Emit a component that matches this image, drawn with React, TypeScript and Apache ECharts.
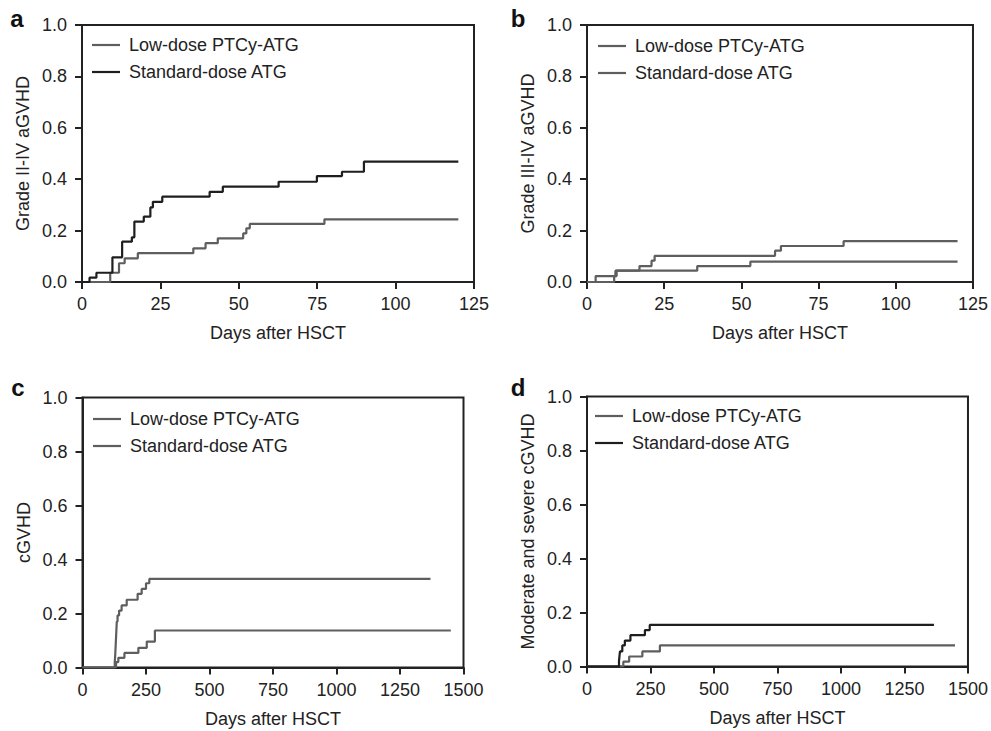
import React, { useEffect, useRef } from "react";
import * as echarts from "echarts";

const FONT = '"Liberation Sans", Arial, Helvetica, sans-serif';
const LOW = "Low-dose PTCy-ATG";
const STD = "Standard-dose ATG";
const X_NAME = "Days after HSCT";
const Y_NAMES = ["Grade II-IV aGVHD", "Grade III-IV aGVHD", "cGVHD", "Moderate and severe cGVHD"];
const PANEL_LETTERS = ["a", "b", "c", "d"];

// Panel a – grade II-IV aGVHD
const A_LOW_DAYS = [0, 9.0, 11.8, 13.6, 17.8, 35.5, 39.4, 43.3, 51.4, 52.4, 53.5, 77.3, 120];
const A_LOW_CIF = [0, 0.036, 0.073, 0.092, 0.112, 0.131, 0.151, 0.17, 0.189, 0.209, 0.226, 0.244, 0.244];
const A_STD_DAYS = [0, 2.4, 4.6, 9.7, 12.8, 15.9, 16.7, 19.7, 21.8, 22.6, 25.6, 40.7, 44.9, 62.7, 74.9, 82.9, 89.9, 120];
const A_STD_CIF = [0, 0.017, 0.036, 0.096, 0.157, 0.174, 0.235, 0.254, 0.29, 0.312, 0.332, 0.351, 0.371, 0.39, 0.412, 0.429, 0.468, 0.468];

// Panel b – grade III-IV aGVHD
const B_LOW_DAYS = [0, 8.8, 9.6, 35.7, 52.9, 120];
const B_LOW_CIF = [0, 0.023, 0.044, 0.062, 0.079, 0.079];
const B_STD_DAYS = [0, 2.8, 9.2, 17.0, 20.9, 21.9, 60.9, 62.8, 83.1, 120];
const B_STD_CIF = [0, 0.023, 0.044, 0.062, 0.083, 0.102, 0.122, 0.14, 0.159, 0.159];

// Panel c – cGVHD
const C_LOW_DAYS = [0, 132, 141, 165, 220, 253, 285, 1450];
const C_LOW_CIF = [0, 0.02, 0.036, 0.054, 0.073, 0.096, 0.137, 0.137];
const C_STD_DAYS = [0, 127, 129, 131, 133, 135, 138, 144, 154, 174, 217, 233, 250, 263, 1370];
const C_STD_CIF = [0, 0.02, 0.05, 0.09, 0.13, 0.17, 0.193, 0.211, 0.23, 0.251, 0.273, 0.291, 0.312, 0.328, 0.328];

// Panel d – moderate and severe cGVHD
const D_LOW_DAYS = [0, 143, 166, 218, 287, 1449];
const D_LOW_CIF = [0, 0.018, 0.037, 0.056, 0.078, 0.078];
const D_STD_DAYS = [0, 126, 128, 130, 139, 149, 171, 228, 247, 1366];
const D_STD_CIF = [0, 0.02, 0.04, 0.056, 0.078, 0.096, 0.116, 0.135, 0.154, 0.154];

const X_MAX = [125, 125, 1500, 1500];
const X_STEP = [25, 25, 250, 250];

const BLACK = "#1e1e1e";
const GRAY = "#5e5e5e";
const AXIS = "#222";
const LINE_ICON = "path://M0,0H28V2.2H0Z";

const zip = (xs: number[], ys: number[]) => xs.map((x, i) => [x, ys[i]]);

const PANELS = [
  { grid: { left: 82, top: 25, width: 392, height: 257 }, legend: { left: 92, top: 36 }, letter: [17, 18], low: zip(A_LOW_DAYS, A_LOW_CIF), std: zip(A_STD_DAYS, A_STD_CIF), lowColor: GRAY, stdColor: BLACK },
  { grid: { left: 587, top: 25, width: 389, height: 257 }, legend: { left: 598, top: 37 }, letter: [518, 18], low: zip(B_LOW_DAYS, B_LOW_CIF), std: zip(B_STD_DAYS, B_STD_CIF), lowColor: GRAY, stdColor: GRAY },
  { grid: { left: 82.5, top: 397.5, width: 381, height: 270 }, legend: { left: 93, top: 410 }, letter: [18, 387], low: zip(C_LOW_DAYS, C_LOW_CIF), std: zip(C_STD_DAYS, C_STD_CIF), lowColor: GRAY, stdColor: GRAY },
  { grid: { left: 587, top: 396.5, width: 382, height: 270 }, legend: { left: 595, top: 407 }, letter: [518, 387], low: zip(D_LOW_DAYS, D_LOW_CIF), std: zip(D_STD_DAYS, D_STD_CIF), lowColor: GRAY, stdColor: BLACK },
];

export default function App() {
  const ref = useRef<HTMLDivElement>(null);
  useEffect(() => {
    if (!ref.current) return;
    const chart = echarts.init(ref.current, null, { renderer: "svg" });
    const text = { fontFamily: FONT, fontSize: 18, color: "#222" };
    const option: any = {
      animation: false,
      backgroundColor: "#fff",
      grid: PANELS.map((p) => ({ ...p.grid, show: true, borderColor: AXIS, borderWidth: 2, backgroundColor: "transparent" })),
      xAxis: PANELS.map((p, i) => ({
        type: "value",
        gridIndex: i,
        min: 0,
        max: X_MAX[i],
        interval: X_STEP[i],
        name: X_NAME,
        nameLocation: "middle",
        nameGap: 42,
        nameTextStyle: text,
        axisLine: { show: true, onZero: false, lineStyle: { color: AXIS, width: 2 } },
        axisTick: { show: true, inside: false, length: 7, lineStyle: { color: AXIS, width: 2 } },
        axisLabel: { ...text, margin: 13, formatter: (v: number) => String(v) },
        splitLine: { show: false },
      })),
      yAxis: PANELS.map((p, i) => ({
        type: "value",
        gridIndex: i,
        min: 0,
        max: 1,
        interval: 0.2,
        name: Y_NAMES[i],
        nameLocation: "middle",
        nameGap: 50,
        nameTextStyle: text,
        axisLine: { show: true, onZero: false, lineStyle: { color: AXIS, width: 2 } },
        axisTick: { show: true, inside: false, length: 7, lineStyle: { color: AXIS, width: 2 } },
        axisLabel: { ...text, margin: 15, formatter: (v: number) => v.toFixed(1) },
        splitLine: { show: false },
      })),
      legend: PANELS.map((p) => ({
        orient: "vertical",
        left: p.legend.left,
        top: p.legend.top,
        padding: 0,
        itemWidth: 28,
        itemHeight: 14,
        itemGap: 9,
        selectedMode: false,
        textStyle: { ...text, lineHeight: 18, padding: [0, 0, 0, 4] },
        data: [
          { name: LOW, icon: LINE_ICON, itemStyle: { color: p.lowColor, borderWidth: 0 } },
          { name: STD, icon: LINE_ICON, itemStyle: { color: p.stdColor, borderWidth: 0 } },
        ],
      })),
      series: PANELS.flatMap((p, i) => [
        {
          type: "line",
          name: LOW,
          xAxisIndex: i,
          yAxisIndex: i,
          step: "end",
          symbol: "none",
          data: p.low,
          itemStyle: { color: p.lowColor },
          lineStyle: { color: p.lowColor, width: 2.2 },
          z: 3,
        },
        {
          type: "line",
          name: STD,
          xAxisIndex: i,
          yAxisIndex: i,
          step: "end",
          symbol: "none",
          data: p.std,
          itemStyle: { color: p.stdColor },
          lineStyle: { color: p.stdColor, width: 2.2 },
          z: 4,
        },
      ]),
      graphic: PANELS.map((p, i) => ({
        type: "text",
        x: p.letter[0],
        y: p.letter[1],
        style: {
          text: PANEL_LETTERS[i],
          fontFamily: FONT,
          fontWeight: "bold",
          fontSize: 24,
          fill: "#111",
          textAlign: "center",
          textVerticalAlign: "middle",
        },
      })),
    };
    chart.setOption(option);
    return () => chart.dispose();
  }, []);
  return <div ref={ref} style={{ position: "fixed", left: 0, top: 0, width: 991, height: 731, background: "#fff" }} />;
}
